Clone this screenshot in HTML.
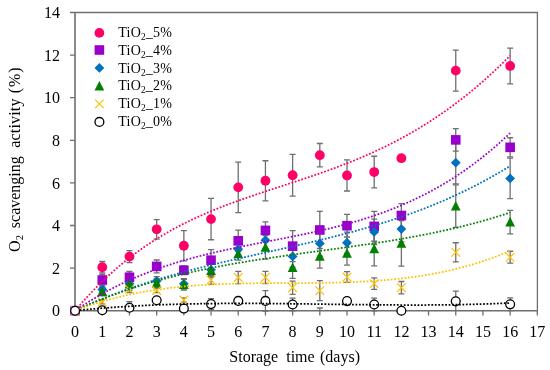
<!DOCTYPE html>
<html><head><meta charset="utf-8"><style>
html,body{margin:0;padding:0;background:#fff;}
svg{display:block;font-family:"Liberation Serif",serif;will-change:transform;}
</style></head><body>
<svg width="550" height="370" viewBox="0 0 550 370">
<rect width="550" height="370" fill="#fff"/>
<g font-size="16" fill="#000">
<text x="60" y="316.3" text-anchor="end">0</text><text x="60" y="273.7" text-anchor="end">2</text><text x="60" y="231.1" text-anchor="end">4</text><text x="60" y="188.5" text-anchor="end">6</text><text x="60" y="145.9" text-anchor="end">8</text><text x="60" y="103.3" text-anchor="end">10</text><text x="60" y="60.7" text-anchor="end">12</text><text x="60" y="18.1" text-anchor="end">14</text><text x="75.1" y="336.5" text-anchor="middle">0</text><text x="102.29" y="336.5" text-anchor="middle">1</text><text x="129.48" y="336.5" text-anchor="middle">2</text><text x="156.67" y="336.5" text-anchor="middle">3</text><text x="183.86" y="336.5" text-anchor="middle">4</text><text x="211.05" y="336.5" text-anchor="middle">5</text><text x="238.24" y="336.5" text-anchor="middle">6</text><text x="265.43" y="336.5" text-anchor="middle">7</text><text x="292.62" y="336.5" text-anchor="middle">8</text><text x="319.81" y="336.5" text-anchor="middle">9</text><text x="347" y="336.5" text-anchor="middle">10</text><text x="374.19" y="336.5" text-anchor="middle">11</text><text x="401.38" y="336.5" text-anchor="middle">12</text><text x="428.57" y="336.5" text-anchor="middle">13</text><text x="455.76" y="336.5" text-anchor="middle">14</text><text x="482.95" y="336.5" text-anchor="middle">15</text><text x="510.14" y="336.5" text-anchor="middle">16</text><text x="537.33" y="336.5" text-anchor="middle">17</text>
<text x="229.3" y="362">Storage</text><text x="286.2" y="362">time</text><text x="320" y="362">(days)</text>
<text transform="translate(19.8 251.9) rotate(-90)">O<tspan font-size="10.7" dy="3">2</tspan></text><text transform="translate(19.8 228.2) rotate(-90)">scavenging</text><text transform="translate(19.8 147.8) rotate(-90)" textLength="49.3">activity</text><text transform="translate(19.8 93.2) rotate(-90)" textLength="25.8">(%)</text>
</g>
<path d="M75 12.5H537.4V310.7" fill="none" stroke="#6f6f6f" stroke-width="1.3"/><path d="M75 12.5V310.7H537.4" fill="none" stroke="#6f6f6f" stroke-width="1.6"/><path d="M70 310.7H75M70 268.1H75M70 225.5H75M70 182.9H75M70 140.3H75M70 97.7H75M70 55.1H75M70 12.5H75M75.1 310.7V315.6M102.29 310.7V315.6M129.48 310.7V315.6M156.67 310.7V315.6M183.86 310.7V315.6M211.05 310.7V315.6M238.24 310.7V315.6M265.43 310.7V315.6M292.62 310.7V315.6M319.81 310.7V315.6M347 310.7V315.6M374.19 310.7V315.6M401.38 310.7V315.6M428.57 310.7V315.6M455.76 310.7V315.6M482.95 310.7V315.6M510.14 310.7V315.6M537.33 310.7V315.6" stroke="#6f6f6f" stroke-width="1.3"/>
<g stroke="#6f6f6f" stroke-width="1.3" fill="none"><path d="M102.29 261.5V273M99.29 261.5H105.29M99.29 273H105.29"/><path d="M129.48 250.63V262.56M126.48 250.63H132.48M126.48 262.56H132.48"/><path d="M156.67 219.54V239.13M153.67 219.54H159.67M153.67 239.13H159.67"/><path d="M183.86 230.61V260.86M180.86 230.61H186.86M180.86 260.86H186.86"/><path d="M211.05 198.45V239.77M208.05 198.45H214.05M208.05 239.77H214.05"/><path d="M238.24 162.03V212.72M235.24 162.03H241.24M235.24 212.72H241.24"/><path d="M265.43 160.75V200.79M262.43 160.75H268.43M262.43 200.79H268.43"/><path d="M292.62 154.36V196.11M289.62 154.36H295.62M289.62 196.11H295.62"/><path d="M319.81 143.5V166.92M316.81 143.5H322.81M316.81 166.92H322.81"/><path d="M347 159.9V190.99M344 159.9H350M344 190.99H350"/><path d="M374.19 156.27V187.8M371.19 156.27H377.19M371.19 187.8H377.19"/><path d="M455.76 50.2V91.1M452.76 50.2H458.76M452.76 91.1H458.76"/><path d="M510.14 48.07V83.85M507.14 48.07H513.14M507.14 83.85H513.14"/><path d="M102.29 274.7V285.35M99.29 274.7H105.29M99.29 285.35H105.29"/><path d="M129.48 271.51V283.01M126.48 271.51H132.48M126.48 283.01H132.48"/><path d="M156.67 260.01V272.79M153.67 260.01H159.67M153.67 272.79H159.67"/><path d="M183.86 265.97V274.49M180.86 265.97H186.86M180.86 274.49H186.86"/><path d="M211.05 249.57V270.87M208.05 249.57H214.05M208.05 270.87H214.05"/><path d="M238.24 230.19V251.49M235.24 230.19H241.24M235.24 251.49H241.24"/><path d="M265.43 221.88V238.92M262.43 221.88H268.43M262.43 238.92H268.43"/><path d="M292.62 230.61V261.71M289.62 230.61H295.62M289.62 261.71H295.62"/><path d="M319.81 211.44V248.5M316.81 211.44H322.81M316.81 248.5H322.81"/><path d="M347 214.42V237M344 214.42H350M344 237H350"/><path d="M374.19 211.44V241.26M371.19 211.44H377.19M371.19 241.26H377.19"/><path d="M401.38 203.56V227.42M398.38 203.56H404.38M398.38 227.42H404.38"/><path d="M455.76 128.59V151.16M452.76 128.59H458.76M452.76 151.16H458.76"/><path d="M510.14 137.74V156.91M507.14 137.74H513.14M507.14 156.91H513.14"/><path d="M102.29 287.27V291.53M99.29 287.27H105.29M99.29 291.53H105.29"/><path d="M129.48 279.39V287.91M126.48 279.39H132.48M126.48 287.91H132.48"/><path d="M156.67 276.62V285.14M153.67 276.62H159.67M153.67 285.14H159.67"/><path d="M183.86 278.54V289.19M180.86 278.54H186.86M180.86 289.19H186.86"/><path d="M211.05 263.41V276.19M208.05 263.41H214.05M208.05 276.19H214.05"/><path d="M238.24 242.97V255.75M235.24 242.97H241.24M235.24 255.75H241.24"/><path d="M265.43 231.68V248.72M262.43 231.68H268.43M262.43 248.72H268.43"/><path d="M292.62 245.73V267.03M289.62 245.73H295.62M289.62 267.03H295.62"/><path d="M319.81 230.61V256.17M316.81 230.61H322.81M316.81 256.17H322.81"/><path d="M347 232.1V253.4M344 232.1H350M344 253.4H350"/><path d="M374.19 219.11V244.67M371.19 219.11H377.19M371.19 244.67H377.19"/><path d="M401.38 216.34V241.9M398.38 216.34H404.38M398.38 241.9H404.38"/><path d="M455.76 141.36V183.96M452.76 141.36H458.76M452.76 183.96H458.76"/><path d="M510.14 158.19V198.66M507.14 158.19H513.14M507.14 198.66H513.14"/><path d="M102.29 287.27V295.79M99.29 287.27H105.29M99.29 295.79H105.29"/><path d="M129.48 277.69V290.46M126.48 277.69H132.48M126.48 290.46H132.48"/><path d="M156.67 278.96V287.48M153.67 278.96H159.67M153.67 287.48H159.67"/><path d="M183.86 279.39V290.04M180.86 279.39H186.86M180.86 290.04H186.86"/><path d="M211.05 264.27V277.05M208.05 264.27H214.05M208.05 277.05H214.05"/><path d="M238.24 247.44V260.22M235.24 247.44H241.24M235.24 260.22H241.24"/><path d="M265.43 235.72V259.15M262.43 235.72H268.43M262.43 259.15H268.43"/><path d="M292.62 257.02V278.32M289.62 257.02H295.62M289.62 278.32H295.62"/><path d="M319.81 244.67V268.1M316.81 244.67H322.81M316.81 268.1H322.81"/><path d="M347 241.69V265.12M344 241.69H350M344 265.12H350"/><path d="M374.19 231.89V265.97M371.19 231.89H377.19M371.19 265.97H377.19"/><path d="M401.38 220.6V266.18M398.38 220.6H404.38M398.38 266.18H404.38"/><path d="M455.76 184.82V227.42M452.76 184.82H458.76M452.76 227.42H458.76"/><path d="M510.14 210.38V233.81M507.14 210.38H513.14M507.14 233.81H513.14"/><path d="M102.29 299.62V303.88M99.29 299.62H105.29M99.29 303.88H105.29"/><path d="M129.48 286.2V292.59M126.48 286.2H132.48M126.48 292.59H132.48"/><path d="M156.67 288.33V292.59M153.67 288.33H159.67M153.67 292.59H159.67"/><path d="M183.86 297.92V302.18M180.86 297.92H186.86M180.86 302.18H186.86"/><path d="M211.05 275.77V284.29M208.05 275.77H214.05M208.05 284.29H214.05"/><path d="M238.24 271.29V283.65M235.24 271.29H241.24M235.24 283.65H241.24"/><path d="M265.43 271.29V283.65M262.43 271.29H268.43M262.43 283.65H268.43"/><path d="M292.62 281.09V294.3M289.62 281.09H295.62M289.62 294.3H295.62"/><path d="M319.81 280.67V300.69M316.81 280.67H322.81M316.81 300.69H322.81"/><path d="M347 271.72V282.37M344 271.72H350M344 282.37H350"/><path d="M374.19 277.9V289.4M371.19 277.9H377.19M371.19 289.4H377.19"/><path d="M401.38 281.52V293.87M398.38 281.52H404.38M398.38 293.87H404.38"/><path d="M455.76 242.75V261.92M452.76 242.75H458.76M452.76 261.92H458.76"/><path d="M510.14 251.27V263.2M507.14 251.27H513.14M507.14 263.2H513.14"/><path d="M129.48 301.75V310.7M126.48 301.75H132.48"/><path d="M156.67 298.13V302.39M153.67 298.13H159.67M153.67 302.39H159.67"/><path d="M183.86 306.44V310.7M180.86 306.44H186.86M180.86 310.7H186.86"/><path d="M211.05 298.56V309.63M208.05 298.56H214.05M208.05 309.63H214.05"/><path d="M238.24 298.77V303.03M235.24 298.77H241.24M235.24 303.03H241.24"/><path d="M265.43 290.68V310.7M262.43 290.68H268.43M262.43 311.13H268.43"/><path d="M292.62 298.13V310.7M289.62 298.13H295.62M289.62 310.91H295.62"/><path d="M319.81 308V310.7M316.81 308H322.81"/><path d="M347 298.99V303.25M344 298.99H350M344 303.25H350"/><path d="M374.19 298.13V310.7M371.19 298.13H377.19M371.19 310.91H377.19"/><path d="M455.76 291.1V310.7M452.76 291.1H458.76"/><path d="M510.14 297.92V310.7M507.14 297.92H513.14M507.14 310.7H513.14"/></g>
<g><circle cx="75.1" cy="310.7" r="4.9" fill="#FF0066"/><circle cx="102.29" cy="267.25" r="4.9" fill="#FF0066"/><circle cx="129.48" cy="256.6" r="4.9" fill="#FF0066"/><circle cx="156.67" cy="229.33" r="4.9" fill="#FF0066"/><circle cx="183.86" cy="245.73" r="4.9" fill="#FF0066"/><circle cx="211.05" cy="219.11" r="4.9" fill="#FF0066"/><circle cx="238.24" cy="187.37" r="4.9" fill="#FF0066"/><circle cx="265.43" cy="180.77" r="4.9" fill="#FF0066"/><circle cx="292.62" cy="175.23" r="4.9" fill="#FF0066"/><circle cx="319.81" cy="155.21" r="4.9" fill="#FF0066"/><circle cx="347" cy="175.44" r="4.9" fill="#FF0066"/><circle cx="374.19" cy="172.04" r="4.9" fill="#FF0066"/><circle cx="401.38" cy="158.19" r="4.9" fill="#FF0066"/><circle cx="455.76" cy="70.65" r="4.9" fill="#FF0066"/><circle cx="510.14" cy="65.96" r="4.9" fill="#FF0066"/><rect x="70.3" y="305.9" width="9.6" height="9.6" fill="#9900CC"/><rect x="97.49" y="275.23" width="9.6" height="9.6" fill="#9900CC"/><rect x="124.68" y="272.46" width="9.6" height="9.6" fill="#9900CC"/><rect x="151.87" y="261.6" width="9.6" height="9.6" fill="#9900CC"/><rect x="179.06" y="265.43" width="9.6" height="9.6" fill="#9900CC"/><rect x="206.25" y="255.42" width="9.6" height="9.6" fill="#9900CC"/><rect x="233.44" y="236.04" width="9.6" height="9.6" fill="#9900CC"/><rect x="260.63" y="225.6" width="9.6" height="9.6" fill="#9900CC"/><rect x="287.82" y="241.36" width="9.6" height="9.6" fill="#9900CC"/><rect x="315.01" y="225.17" width="9.6" height="9.6" fill="#9900CC"/><rect x="342.2" y="220.91" width="9.6" height="9.6" fill="#9900CC"/><rect x="369.39" y="221.55" width="9.6" height="9.6" fill="#9900CC"/><rect x="396.58" y="210.69" width="9.6" height="9.6" fill="#9900CC"/><rect x="450.96" y="135.07" width="9.6" height="9.6" fill="#9900CC"/><rect x="505.34" y="142.53" width="9.6" height="9.6" fill="#9900CC"/><path d="M75.1 305.8L80 310.7L75.1 315.6L70.2 310.7Z" fill="#0070C0"/><path d="M102.29 284.5L107.19 289.4L102.29 294.3L97.39 289.4Z" fill="#0070C0"/><path d="M129.48 278.75L134.38 283.65L129.48 288.55L124.58 283.65Z" fill="#0070C0"/><path d="M156.67 275.98L161.57 280.88L156.67 285.78L151.77 280.88Z" fill="#0070C0"/><path d="M183.86 278.96L188.76 283.86L183.86 288.76L178.96 283.86Z" fill="#0070C0"/><path d="M211.05 264.9L215.95 269.8L211.05 274.7L206.15 269.8Z" fill="#0070C0"/><path d="M238.24 244.46L243.14 249.36L238.24 254.26L233.34 249.36Z" fill="#0070C0"/><path d="M265.43 235.3L270.33 240.2L265.43 245.1L260.53 240.2Z" fill="#0070C0"/><path d="M292.62 251.48L297.52 256.38L292.62 261.28L287.72 256.38Z" fill="#0070C0"/><path d="M319.81 238.49L324.71 243.39L319.81 248.29L314.91 243.39Z" fill="#0070C0"/><path d="M347 237.85L351.9 242.75L347 247.65L342.1 242.75Z" fill="#0070C0"/><path d="M374.19 226.99L379.09 231.89L374.19 236.79L369.29 231.89Z" fill="#0070C0"/><path d="M401.38 224.22L406.28 229.12L401.38 234.02L396.48 229.12Z" fill="#0070C0"/><path d="M455.76 157.76L460.66 162.66L455.76 167.56L450.86 162.66Z" fill="#0070C0"/><path d="M510.14 173.53L515.04 178.43L510.14 183.33L505.24 178.43Z" fill="#0070C0"/><path d="M75.1 305.5L80 315.1L70.2 315.1Z" fill="#008000"/><path d="M102.29 286.33L107.19 295.93L97.39 295.93Z" fill="#008000"/><path d="M129.48 278.88L134.38 288.47L124.58 288.47Z" fill="#008000"/><path d="M156.67 278.02L161.57 287.62L151.77 287.62Z" fill="#008000"/><path d="M183.86 279.51L188.76 289.11L178.96 289.11Z" fill="#008000"/><path d="M211.05 265.46L215.95 275.06L206.15 275.06Z" fill="#008000"/><path d="M238.24 248.63L243.14 258.23L233.34 258.23Z" fill="#008000"/><path d="M265.43 242.24L270.33 251.84L260.53 251.84Z" fill="#008000"/><path d="M292.62 262.47L297.52 272.07L287.72 272.07Z" fill="#008000"/><path d="M319.81 251.19L324.71 260.78L314.91 260.78Z" fill="#008000"/><path d="M347 248.2L351.9 257.8L342.1 257.8Z" fill="#008000"/><path d="M374.19 243.73L379.09 253.33L369.29 253.33Z" fill="#008000"/><path d="M401.38 238.19L406.28 247.79L396.48 247.79Z" fill="#008000"/><path d="M455.76 200.92L460.66 210.52L450.86 210.52Z" fill="#008000"/><path d="M510.14 216.89L515.04 226.49L505.24 226.49Z" fill="#008000"/><path d="M70.8 306.4L79.4 315M79.4 306.4L70.8 315" stroke="#FFC000" stroke-width="1.15" fill="none"/><path d="M97.99 297.45L106.59 306.05M106.59 297.45L97.99 306.05" stroke="#FFC000" stroke-width="1.15" fill="none"/><path d="M125.18 285.1L133.78 293.7M133.78 285.1L125.18 293.7" stroke="#FFC000" stroke-width="1.15" fill="none"/><path d="M152.37 286.16L160.97 294.76M160.97 286.16L152.37 294.76" stroke="#FFC000" stroke-width="1.15" fill="none"/><path d="M179.56 295.75L188.16 304.35M188.16 295.75L179.56 304.35" stroke="#FFC000" stroke-width="1.15" fill="none"/><path d="M206.75 275.73L215.35 284.33M215.35 275.73L206.75 284.33" stroke="#FFC000" stroke-width="1.15" fill="none"/><path d="M233.94 273.17L242.54 281.77M242.54 273.17L233.94 281.77" stroke="#FFC000" stroke-width="1.15" fill="none"/><path d="M261.13 273.17L269.73 281.77M269.73 273.17L261.13 281.77" stroke="#FFC000" stroke-width="1.15" fill="none"/><path d="M288.32 283.4L296.92 292M296.92 283.4L288.32 292" stroke="#FFC000" stroke-width="1.15" fill="none"/><path d="M315.51 286.38L324.11 294.98M324.11 286.38L315.51 294.98" stroke="#FFC000" stroke-width="1.15" fill="none"/><path d="M342.7 272.75L351.3 281.35M351.3 272.75L342.7 281.35" stroke="#FFC000" stroke-width="1.15" fill="none"/><path d="M369.89 279.35L378.49 287.95M378.49 279.35L369.89 287.95" stroke="#FFC000" stroke-width="1.15" fill="none"/><path d="M397.08 283.4L405.68 292M405.68 283.4L397.08 292" stroke="#FFC000" stroke-width="1.15" fill="none"/><path d="M451.46 248.04L460.06 256.64M460.06 248.04L451.46 256.64" stroke="#FFC000" stroke-width="1.15" fill="none"/><path d="M505.84 252.94L514.44 261.54M514.44 252.94L505.84 261.54" stroke="#FFC000" stroke-width="1.15" fill="none"/><circle cx="75.1" cy="310.7" r="4.4" fill="#fff" stroke="#000" stroke-width="1.3"/><circle cx="102.29" cy="310.27" r="4.4" fill="#fff" stroke="#000" stroke-width="1.3"/><circle cx="129.48" cy="307.72" r="4.4" fill="#fff" stroke="#000" stroke-width="1.3"/><circle cx="156.67" cy="300.26" r="4.4" fill="#fff" stroke="#000" stroke-width="1.3"/><circle cx="183.86" cy="308.57" r="4.4" fill="#fff" stroke="#000" stroke-width="1.3"/><circle cx="211.05" cy="304.1" r="4.4" fill="#fff" stroke="#000" stroke-width="1.3"/><circle cx="238.24" cy="300.9" r="4.4" fill="#fff" stroke="#000" stroke-width="1.3"/><circle cx="265.43" cy="300.9" r="4.4" fill="#fff" stroke="#000" stroke-width="1.3"/><circle cx="292.62" cy="304.52" r="4.4" fill="#fff" stroke="#000" stroke-width="1.3"/><circle cx="347" cy="301.12" r="4.4" fill="#fff" stroke="#000" stroke-width="1.3"/><circle cx="374.19" cy="304.52" r="4.4" fill="#fff" stroke="#000" stroke-width="1.3"/><circle cx="401.38" cy="310.7" r="4.4" fill="#fff" stroke="#000" stroke-width="1.3"/><circle cx="455.76" cy="301.33" r="4.4" fill="#fff" stroke="#000" stroke-width="1.3"/><circle cx="510.14" cy="304.31" r="4.4" fill="#fff" stroke="#000" stroke-width="1.3"/></g>
<g><polyline points="79.72,305.28 79.72,305.28 80.54,304.34 83.26,301.26 85.98,298.24 88.69,295.29 91.41,292.4 94.13,289.57 96.85,286.8 99.57,284.08 102.29,281.43 105.01,278.83 107.73,276.29 110.45,273.8 113.17,271.37 115.88,268.98 118.6,266.65 121.32,264.37 124.04,262.14 126.76,259.96 129.48,257.83 132.2,255.74 134.92,253.7 137.64,251.7 140.36,249.74 143.07,247.83 145.79,245.96 148.51,244.13 151.23,242.35 153.95,240.6 156.67,238.88 159.39,237.21 162.11,235.57 164.83,233.97 167.55,232.4 170.26,230.86 172.98,229.35 175.7,227.88 178.42,226.44 181.14,225.03 183.86,223.65 186.58,222.29 189.3,220.96 192.02,219.66 194.74,218.38 197.45,217.13 200.17,215.9 202.89,214.7 205.61,213.52 208.33,212.35 211.05,211.21 213.77,210.09 216.49,208.99 219.21,207.9 221.93,206.83 224.65,205.78 227.36,204.74 230.08,203.72 232.8,202.71 235.52,201.72 238.24,200.73 240.96,199.76 243.68,198.8 246.4,197.85 249.12,196.91 251.84,195.98 254.55,195.05 257.27,194.14 259.99,193.23 262.71,192.32 265.43,191.42 268.15,190.52 270.87,189.63 273.59,188.74 276.31,187.85 279.02,186.97 281.74,186.08 284.46,185.19 287.18,184.31 289.9,183.42 292.62,182.53 295.34,181.64 298.06,180.74 300.78,179.84 303.5,178.94 306.22,178.03 308.93,177.11 311.65,176.19 314.37,175.26 317.09,174.32 319.81,173.38 322.53,172.42 325.25,171.46 327.97,170.48 330.69,169.5 333.4,168.5 336.12,167.49 338.84,166.47 341.56,165.44 344.28,164.39 347,163.33 349.72,162.25 352.44,161.16 355.16,160.05 357.88,158.93 360.6,157.79 363.31,156.63 366.03,155.45 368.75,154.26 371.47,153.04 374.19,151.81 376.91,150.56 379.63,149.28 382.35,147.99 385.07,146.67 387.78,145.33 390.5,143.97 393.22,142.59 395.94,141.18 398.66,139.75 401.38,138.3 404.1,136.82 406.82,135.31 409.54,133.78 412.26,132.22 414.98,130.64 417.69,129.03 420.41,127.39 423.13,125.73 425.85,124.03 428.57,122.31 431.29,120.56 434.01,118.78 436.73,116.97 439.45,115.13 442.16,113.26 444.88,111.36 447.6,109.43 450.32,107.47 453.04,105.47 455.76,103.44 458.48,101.38 461.2,99.29 463.92,97.17 466.64,95.01 469.36,92.81 472.07,90.59 474.79,88.32 477.51,86.03 480.23,83.7 482.95,81.33 485.67,78.93 488.39,76.49 491.11,74.01 493.83,71.5 496.54,68.96 499.26,66.37 501.98,63.75 504.7,61.09 507.42,58.39 510.14,55.66" fill="none" stroke="#FF0066" stroke-width="1.75" stroke-dasharray="1.75 1.7"/><polyline points="79.72,307.58 79.72,307.58 80.54,307.04 83.26,305.26 85.98,303.52 88.69,301.82 91.41,300.15 94.13,298.52 96.85,296.92 99.57,295.35 102.29,293.81 105.01,292.31 107.73,290.84 110.45,289.4 113.17,287.99 115.88,286.62 118.6,285.27 121.32,283.95 124.04,282.66 126.76,281.39 129.48,280.16 132.2,278.95 134.92,277.77 137.64,276.61 140.36,275.48 143.07,274.38 145.79,273.29 148.51,272.24 151.23,271.2 153.95,270.19 156.67,269.2 159.39,268.24 162.11,267.29 164.83,266.37 167.55,265.46 170.26,264.58 172.98,263.71 175.7,262.86 178.42,262.03 181.14,261.22 183.86,260.43 186.58,259.65 189.3,258.88 192.02,258.14 194.74,257.4 197.45,256.69 200.17,255.98 202.89,255.29 205.61,254.61 208.33,253.95 211.05,253.3 213.77,252.65 216.49,252.02 219.21,251.4 221.93,250.79 224.65,250.18 227.36,249.59 230.08,249 232.8,248.42 235.52,247.85 238.24,247.29 240.96,246.73 243.68,246.17 246.4,245.63 249.12,245.08 251.84,244.54 254.55,244 257.27,243.47 259.99,242.94 262.71,242.4 265.43,241.88 268.15,241.35 270.87,240.82 273.59,240.29 276.31,239.76 279.02,239.23 281.74,238.69 284.46,238.16 287.18,237.62 289.9,237.08 292.62,236.53 295.34,235.98 298.06,235.42 300.78,234.86 303.5,234.29 306.22,233.72 308.93,233.14 311.65,232.55 314.37,231.95 317.09,231.35 319.81,230.73 322.53,230.1 325.25,229.47 327.97,228.82 330.69,228.16 333.4,227.49 336.12,226.81 338.84,226.11 341.56,225.4 344.28,224.68 347,223.94 349.72,223.19 352.44,222.42 355.16,221.64 357.88,220.83 360.6,220.01 363.31,219.18 366.03,218.32 368.75,217.45 371.47,216.56 374.19,215.64 376.91,214.71 379.63,213.76 382.35,212.78 385.07,211.78 387.78,210.76 390.5,209.72 393.22,208.65 395.94,207.56 398.66,206.45 401.38,205.31 404.1,204.14 406.82,202.95 409.54,201.73 412.26,200.48 414.98,199.21 417.69,197.91 420.41,196.58 423.13,195.21 425.85,193.82 428.57,192.4 431.29,190.95 434.01,189.47 436.73,187.95 439.45,186.41 442.16,184.83 444.88,183.21 447.6,181.56 450.32,179.88 453.04,178.16 455.76,176.41 458.48,174.62 461.2,172.79 463.92,170.93 466.64,169.03 469.36,167.09 472.07,165.11 474.79,163.09 477.51,161.03 480.23,158.94 482.95,156.8 485.67,154.62 488.39,152.39 491.11,150.13 493.83,147.82 496.54,145.47 499.26,143.07 501.98,140.63 504.7,138.15 507.42,135.61 510.14,133.04" fill="none" stroke="#9900CC" stroke-width="1.75" stroke-dasharray="1.75 1.7"/><polyline points="79.72,308.56 79.72,308.56 80.54,308.18 83.26,306.95 85.98,305.74 88.69,304.55 91.41,303.37 94.13,302.21 96.85,301.07 99.57,299.94 102.29,298.83 105.01,297.74 107.73,296.67 110.45,295.61 113.17,294.56 115.88,293.53 118.6,292.52 121.32,291.52 124.04,290.53 126.76,289.56 129.48,288.6 132.2,287.66 134.92,286.73 137.64,285.81 140.36,284.91 143.07,284.02 145.79,283.14 148.51,282.27 151.23,281.42 153.95,280.57 156.67,279.74 159.39,278.92 162.11,278.11 164.83,277.3 167.55,276.51 170.26,275.73 172.98,274.96 175.7,274.2 178.42,273.45 181.14,272.7 183.86,271.97 186.58,271.24 189.3,270.52 192.02,269.81 194.74,269.11 197.45,268.41 200.17,267.72 202.89,267.04 205.61,266.36 208.33,265.69 211.05,265.02 213.77,264.37 216.49,263.71 219.21,263.06 221.93,262.42 224.65,261.78 227.36,261.14 230.08,260.51 232.8,259.88 235.52,259.26 238.24,258.64 240.96,258.02 243.68,257.4 246.4,256.79 249.12,256.18 251.84,255.57 254.55,254.96 257.27,254.35 259.99,253.74 262.71,253.14 265.43,252.53 268.15,251.93 270.87,251.32 273.59,250.72 276.31,250.11 279.02,249.51 281.74,248.9 284.46,248.29 287.18,247.68 289.9,247.06 292.62,246.45 295.34,245.83 298.06,245.21 300.78,244.58 303.5,243.96 306.22,243.33 308.93,242.69 311.65,242.05 314.37,241.41 317.09,240.76 319.81,240.11 322.53,239.45 325.25,238.79 327.97,238.12 330.69,237.44 333.4,236.76 336.12,236.07 338.84,235.37 341.56,234.67 344.28,233.96 347,233.24 349.72,232.52 352.44,231.79 355.16,231.04 357.88,230.29 360.6,229.53 363.31,228.76 366.03,227.98 368.75,227.2 371.47,226.4 374.19,225.59 376.91,224.77 379.63,223.94 382.35,223.1 385.07,222.24 387.78,221.38 390.5,220.5 393.22,219.61 395.94,218.71 398.66,217.79 401.38,216.87 404.1,215.93 406.82,214.97 409.54,214 412.26,213.02 414.98,212.02 417.69,211.01 420.41,209.99 423.13,208.94 425.85,207.89 428.57,206.81 431.29,205.72 434.01,204.62 436.73,203.5 439.45,202.36 442.16,201.2 444.88,200.03 447.6,198.84 450.32,197.63 453.04,196.4 455.76,195.16 458.48,193.89 461.2,192.61 463.92,191.31 466.64,189.99 469.36,188.64 472.07,187.28 474.79,185.9 477.51,184.5 480.23,183.07 482.95,181.63 485.67,180.16 488.39,178.67 491.11,177.16 493.83,175.63 496.54,174.08 499.26,172.5 501.98,170.9 504.7,169.28 507.42,167.63 510.14,165.96" fill="none" stroke="#0070C0" stroke-width="1.75" stroke-dasharray="1.75 1.7"/><polyline points="79.72,308.59 79.72,308.59 80.54,308.22 83.26,307.01 85.98,305.82 88.69,304.65 91.41,303.5 94.13,302.37 96.85,301.25 99.57,300.16 102.29,299.08 105.01,298.01 107.73,296.97 110.45,295.94 113.17,294.93 115.88,293.94 118.6,292.96 121.32,292 124.04,291.05 126.76,290.13 129.48,289.21 132.2,288.31 134.92,287.43 137.64,286.56 140.36,285.71 143.07,284.87 145.79,284.05 148.51,283.24 151.23,282.44 153.95,281.66 156.67,280.89 159.39,280.13 162.11,279.39 164.83,278.66 167.55,277.94 170.26,277.23 172.98,276.54 175.7,275.86 178.42,275.19 181.14,274.53 183.86,273.88 186.58,273.25 189.3,272.62 192.02,272.01 194.74,271.4 197.45,270.81 200.17,270.22 202.89,269.65 205.61,269.08 208.33,268.53 211.05,267.98 213.77,267.44 216.49,266.91 219.21,266.39 221.93,265.87 224.65,265.37 227.36,264.87 230.08,264.38 232.8,263.9 235.52,263.42 238.24,262.95 240.96,262.49 243.68,262.03 246.4,261.58 249.12,261.14 251.84,260.7 254.55,260.27 257.27,259.84 259.99,259.41 262.71,259 265.43,258.58 268.15,258.17 270.87,257.77 273.59,257.37 276.31,256.97 279.02,256.58 281.74,256.19 284.46,255.8 287.18,255.41 289.9,255.03 292.62,254.65 295.34,254.27 298.06,253.9 300.78,253.53 303.5,253.15 306.22,252.78 308.93,252.41 311.65,252.04 314.37,251.67 317.09,251.31 319.81,250.94 322.53,250.57 325.25,250.2 327.97,249.83 330.69,249.46 333.4,249.09 336.12,248.72 338.84,248.35 341.56,247.98 344.28,247.6 347,247.22 349.72,246.84 352.44,246.46 355.16,246.07 357.88,245.68 360.6,245.29 363.31,244.9 366.03,244.5 368.75,244.1 371.47,243.69 374.19,243.28 376.91,242.86 379.63,242.45 382.35,242.02 385.07,241.59 387.78,241.16 390.5,240.72 393.22,240.27 395.94,239.82 398.66,239.36 401.38,238.89 404.1,238.42 406.82,237.94 409.54,237.46 412.26,236.97 414.98,236.47 417.69,235.96 420.41,235.44 423.13,234.92 425.85,234.39 428.57,233.84 431.29,233.29 434.01,232.73 436.73,232.17 439.45,231.59 442.16,231 444.88,230.4 447.6,229.8 450.32,229.18 453.04,228.55 455.76,227.91 458.48,227.26 461.2,226.6 463.92,225.92 466.64,225.24 469.36,224.54 472.07,223.83 474.79,223.11 477.51,222.37 480.23,221.63 482.95,220.87 485.67,220.09 488.39,219.31 491.11,218.51 493.83,217.69 496.54,216.86 499.26,216.02 501.98,215.16 504.7,214.29 507.42,213.4 510.14,212.5" fill="none" stroke="#008000" stroke-width="1.75" stroke-dasharray="1.75 1.7"/><polyline points="79.72,308.96 79.72,308.96 80.54,308.66 83.26,307.68 85.98,306.72 88.69,305.79 91.41,304.89 94.13,304.01 96.85,303.15 99.57,302.32 102.29,301.51 105.01,300.72 107.73,299.96 110.45,299.22 113.17,298.5 115.88,297.81 118.6,297.13 121.32,296.48 124.04,295.84 126.76,295.23 129.48,294.64 132.2,294.07 134.92,293.51 137.64,292.98 140.36,292.47 143.07,291.97 145.79,291.49 148.51,291.03 151.23,290.59 153.95,290.16 156.67,289.75 159.39,289.36 162.11,288.98 164.83,288.62 167.55,288.27 170.26,287.94 172.98,287.63 175.7,287.33 178.42,287.04 181.14,286.76 183.86,286.5 186.58,286.26 189.3,286.02 192.02,285.8 194.74,285.59 197.45,285.39 200.17,285.2 202.89,285.02 205.61,284.85 208.33,284.7 211.05,284.55 213.77,284.41 216.49,284.29 219.21,284.17 221.93,284.06 224.65,283.95 227.36,283.86 230.08,283.77 232.8,283.69 235.52,283.62 238.24,283.55 240.96,283.49 243.68,283.44 246.4,283.39 249.12,283.35 251.84,283.31 254.55,283.27 257.27,283.24 259.99,283.22 262.71,283.19 265.43,283.17 268.15,283.15 270.87,283.14 273.59,283.12 276.31,283.11 279.02,283.1 281.74,283.09 284.46,283.09 287.18,283.08 289.9,283.07 292.62,283.06 295.34,283.05 298.06,283.04 300.78,283.03 303.5,283.01 306.22,283 308.93,282.98 311.65,282.96 314.37,282.94 317.09,282.91 319.81,282.88 322.53,282.84 325.25,282.8 327.97,282.76 330.69,282.71 333.4,282.65 336.12,282.59 338.84,282.53 341.56,282.45 344.28,282.37 347,282.28 349.72,282.19 352.44,282.09 355.16,281.98 357.88,281.86 360.6,281.73 363.31,281.59 366.03,281.44 368.75,281.28 371.47,281.12 374.19,280.94 376.91,280.75 379.63,280.55 382.35,280.34 385.07,280.11 387.78,279.87 390.5,279.63 393.22,279.36 395.94,279.09 398.66,278.8 401.38,278.49 404.1,278.18 406.82,277.84 409.54,277.5 412.26,277.13 414.98,276.76 417.69,276.36 420.41,275.95 423.13,275.52 425.85,275.08 428.57,274.61 431.29,274.13 434.01,273.64 436.73,273.12 439.45,272.58 442.16,272.03 444.88,271.45 447.6,270.86 450.32,270.25 453.04,269.61 455.76,268.95 458.48,268.28 461.2,267.58 463.92,266.86 466.64,266.12 469.36,265.35 472.07,264.56 474.79,263.75 477.51,262.92 480.23,262.06 482.95,261.17 485.67,260.27 488.39,259.33 491.11,258.38 493.83,257.39 496.54,256.38 499.26,255.35 501.98,254.28 504.7,253.19 507.42,252.08 510.14,250.93" fill="none" stroke="#FFC000" stroke-width="1.75" stroke-dasharray="1.75 1.7"/><polyline points="79.72,310.23 79.72,310.23 80.54,310.14 83.26,309.88 85.98,309.61 88.69,309.36 91.41,309.11 94.13,308.87 96.85,308.64 99.57,308.41 102.29,308.19 105.01,307.97 107.73,307.76 110.45,307.56 113.17,307.36 115.88,307.17 118.6,306.98 121.32,306.8 124.04,306.62 126.76,306.46 129.48,306.29 132.2,306.13 134.92,305.98 137.64,305.83 140.36,305.69 143.07,305.56 145.79,305.42 148.51,305.3 151.23,305.17 153.95,305.06 156.67,304.95 159.39,304.84 162.11,304.73 164.83,304.64 167.55,304.54 170.26,304.45 172.98,304.37 175.7,304.29 178.42,304.21 181.14,304.14 183.86,304.07 186.58,304 189.3,303.94 192.02,303.89 194.74,303.83 197.45,303.78 200.17,303.74 202.89,303.7 205.61,303.66 208.33,303.62 211.05,303.59 213.77,303.56 216.49,303.53 219.21,303.51 221.93,303.49 224.65,303.47 227.36,303.46 230.08,303.45 232.8,303.44 235.52,303.43 238.24,303.43 240.96,303.43 243.68,303.43 246.4,303.43 249.12,303.44 251.84,303.45 254.55,303.46 257.27,303.47 259.99,303.48 262.71,303.5 265.43,303.51 268.15,303.53 270.87,303.56 273.59,303.58 276.31,303.6 279.02,303.63 281.74,303.65 284.46,303.68 287.18,303.71 289.9,303.74 292.62,303.77 295.34,303.8 298.06,303.84 300.78,303.87 303.5,303.91 306.22,303.94 308.93,303.98 311.65,304.01 314.37,304.05 317.09,304.09 319.81,304.12 322.53,304.16 325.25,304.2 327.97,304.24 330.69,304.28 333.4,304.31 336.12,304.35 338.84,304.39 341.56,304.43 344.28,304.46 347,304.5 349.72,304.53 352.44,304.57 355.16,304.6 357.88,304.64 360.6,304.67 363.31,304.7 366.03,304.73 368.75,304.76 371.47,304.79 374.19,304.82 376.91,304.84 379.63,304.87 382.35,304.89 385.07,304.91 387.78,304.93 390.5,304.95 393.22,304.97 395.94,304.98 398.66,305 401.38,305.01 404.1,305.02 406.82,305.02 409.54,305.03 412.26,305.03 414.98,305.03 417.69,305.03 420.41,305.02 423.13,305.02 425.85,305.01 428.57,304.99 431.29,304.98 434.01,304.96 436.73,304.94 439.45,304.91 442.16,304.88 444.88,304.85 447.6,304.82 450.32,304.78 453.04,304.74 455.76,304.7 458.48,304.65 461.2,304.6 463.92,304.54 466.64,304.49 469.36,304.42 472.07,304.36 474.79,304.29 477.51,304.21 480.23,304.13 482.95,304.05 485.67,303.96 488.39,303.87 491.11,303.77 493.83,303.67 496.54,303.57 499.26,303.46 501.98,303.34 504.7,303.22 507.42,303.1 510.14,302.97" fill="none" stroke="#000000" stroke-width="1.75" stroke-dasharray="1.75 1.7"/></g>
<g><circle cx="99.4" cy="32.9" r="4.9" fill="#FF0066"/><text x="118.3" y="37.2" font-size="14" textLength="53.6" lengthAdjust="spacing">TiO<tspan font-size="9.3" dy="3">2</tspan><tspan dy="-3">_5%</tspan></text><rect x="94.6" y="45.2" width="9.6" height="9.6" fill="#9900CC"/><text x="118.3" y="54.86" font-size="14" textLength="53.6" lengthAdjust="spacing">TiO<tspan font-size="9.3" dy="3">2</tspan><tspan dy="-3">_4%</tspan></text><path d="M99.4 63L104.3 67.9L99.4 72.8L94.5 67.9Z" fill="#0070C0"/><text x="118.3" y="72.52" font-size="14" textLength="53.6" lengthAdjust="spacing">TiO<tspan font-size="9.3" dy="3">2</tspan><tspan dy="-3">_3%</tspan></text><path d="M99.4 80.95L104.3 90.55L94.5 90.55Z" fill="#008000"/><text x="118.3" y="90.18" font-size="14" textLength="53.6" lengthAdjust="spacing">TiO<tspan font-size="9.3" dy="3">2</tspan><tspan dy="-3">_2%</tspan></text><path d="M95.1 99.6L103.7 108.2M103.7 99.6L95.1 108.2" stroke="#FFC000" stroke-width="1.15" fill="none"/><text x="118.3" y="107.84" font-size="14" textLength="53.6" lengthAdjust="spacing">TiO<tspan font-size="9.3" dy="3">2</tspan><tspan dy="-3">_1%</tspan></text><circle cx="99.4" cy="121.9" r="4.4" fill="#fff" stroke="#000" stroke-width="1.3"/><text x="118.3" y="125.5" font-size="14" textLength="53.6" lengthAdjust="spacing">TiO<tspan font-size="9.3" dy="3">2</tspan><tspan dy="-3">_0%</tspan></text></g>
</svg>
</body></html>
